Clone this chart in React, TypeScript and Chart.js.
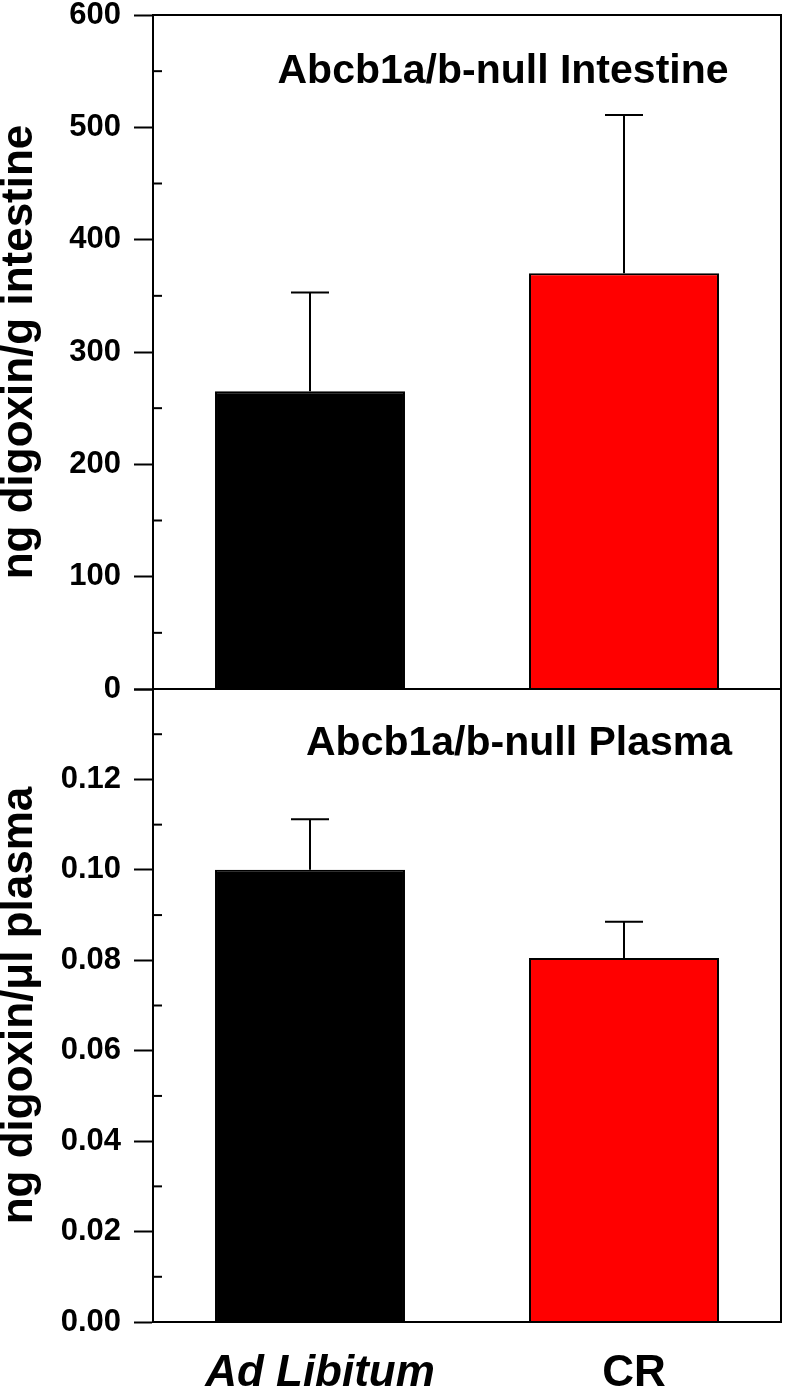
import React, { useEffect, useRef } from 'react';
import { Chart, registerables } from 'chart.js';

Chart.register(...registerables);

const categories = ['Ad Libitum', 'CR'];
const barColors = ['#000000', '#ff0000'];

const intestineMeans = [265, 370];
const intestineErrors = [88, 141];
const intestineRange = [0, 600];
const intestineStep = 100;
const intestineMinorTicks = [50, 150, 250, 350, 450, 550];

const plasmaMeans = [0.1, 0.0805];
const plasmaErrors = [0.0112, 0.008];
const plasmaRange = [0, 0.14];
const plasmaStep = 0.02;
const plasmaMinorTicks = [0.01, 0.03, 0.05, 0.07, 0.09, 0.11, 0.13];

const intestineTitle = 'Abcb1a/b-null Intestine';
const plasmaTitle = 'Abcb1a/b-null Plasma';
const intestineYTitle = 'ng digoxin/g intestine';
const plasmaYTitle = 'ng digoxin/\u03bcl plasma';

const FONT = "'Liberation Sans', Arial, Helvetica, sans-serif";

type PanelCfg = {
  means: number[];
  errors: number[];
  minor: number[];
  title: string;
  titleX: number; // offset from chart left
  titleBaseline: number; // offset from chart top
  yTitle: string;
};

function makePanelPlugin(cfg: PanelCfg) {
  return {
    id: 'panelDecor',
    afterDatasetsDraw(chart: any) {
      const { ctx, chartArea: a } = chart;
      const y = chart.scales.y;
      const meta = chart.getDatasetMeta(0);
      ctx.save();
      ctx.strokeStyle = '#000';
      ctx.lineWidth = 2;
      ctx.lineCap = 'butt';
      // error bars (upper only)
      meta.data.forEach((bar: any, i: number) => {
        const x = bar.x;
        const yTop = y.getPixelForValue(cfg.means[i]);
        const yErr = y.getPixelForValue(cfg.means[i] + cfg.errors[i]);
        ctx.beginPath();
        ctx.moveTo(x, yTop);
        ctx.lineTo(x, yErr);
        ctx.moveTo(x - 19, yErr);
        ctx.lineTo(x + 19, yErr);
        ctx.stroke();
      });
      // frame
      ctx.strokeRect(a.left, a.top, a.right - a.left, a.bottom - a.top);
      // minor ticks (inward)
      cfg.minor.forEach((v) => {
        const py = y.getPixelForValue(v);
        ctx.beginPath();
        ctx.moveTo(a.left, py);
        ctx.lineTo(a.left + 9, py);
        ctx.stroke();
      });
      // panel title
      ctx.fillStyle = '#000';
      ctx.font = `bold 41px ${FONT}`;
      ctx.textAlign = 'center';
      ctx.textBaseline = 'alphabetic';
      ctx.fillText(cfg.title, a.left + cfg.titleX, a.top + cfg.titleBaseline);
      // y-axis title
      ctx.font = `bold 44px ${FONT}`;
      ctx.translate(32, (a.top + a.bottom) / 2);
      ctx.rotate(-Math.PI / 2);
      ctx.textAlign = 'center';
      ctx.textBaseline = 'alphabetic';
      ctx.fillText(cfg.yTitle, 0, 0);
      ctx.restore();
    },
  };
}

function yScale(range: number[], step: number, fmt: (v: number) => string) {
  return {
    min: range[0],
    max: range[1],
    ticks: {
      stepSize: step,
      color: '#000',
      padding: 13,
      font: { family: FONT, size: 31, weight: 'bold' },
      callback: (v: any) => fmt(Number(v)),
    },
    grid: {
      drawOnChartArea: false,
      drawTicks: true,
      tickLength: 19,
      tickWidth: 2,
      tickColor: '#000',
    },
    border: { display: true, color: '#000', width: 2 },
    afterFit: (s: any) => {
      s.width = 153;
      s.paddingTop = 0;
      s.paddingBottom = 0;
    },
  };
}

export default function App() {
  const topRef = useRef<HTMLCanvasElement>(null);
  const botRef = useRef<HTMLCanvasElement>(null);

  useEffect(() => {
    document.body.style.margin = '0';
    const topChart = new Chart(topRef.current as HTMLCanvasElement, {
      type: 'bar',
      data: {
        labels: categories,
        datasets: [
          {
            data: intestineMeans,
            backgroundColor: barColors,
            borderColor: '#000',
            borderWidth: 2,
            barPercentage: 0.605,
            categoryPercentage: 1,
          },
        ],
      },
      options: {
        responsive: false,
        devicePixelRatio: 1,
        animation: false,
        layout: { padding: { top: 15, right: 6, bottom: 31, left: 0 } },
        plugins: { legend: { display: false }, tooltip: { enabled: false } },
        scales: {
          x: { display: false },
          y: yScale(intestineRange, intestineStep, (v) => String(Math.round(v))) as any,
        },
      },
      plugins: [
        makePanelPlugin({
          means: intestineMeans,
          errors: intestineErrors,
          minor: intestineMinorTicks,
          title: intestineTitle,
          titleX: 350,
          titleBaseline: 68,
          yTitle: intestineYTitle,
        }),
      ],
    });

    const botChart = new Chart(botRef.current as HTMLCanvasElement, {
      type: 'bar',
      data: {
        labels: categories,
        datasets: [
          {
            data: plasmaMeans,
            backgroundColor: barColors,
            borderColor: '#000',
            borderWidth: 2,
            barPercentage: 0.605,
            categoryPercentage: 1,
          },
        ],
      },
      options: {
        responsive: false,
        devicePixelRatio: 1,
        animation: false,
        layout: { padding: { top: 9, right: 6, bottom: 0, left: 0 } },
        plugins: { legend: { display: false }, tooltip: { enabled: false } },
        scales: {
          x: {
            ticks: {
              color: '#000',
              padding: 25,
              labelOffset: 10,
              font: (c: any) => ({
                family: FONT,
                size: 44,
                weight: 'bold',
                style: c.index === 0 ? 'italic' : 'normal',
              }),
            },
            grid: { display: false, drawTicks: false },
            border: { display: false },
            afterFit: (s: any) => {
              s.height = 71;
              s.paddingLeft = 0;
              s.paddingRight = 0;
            },
          } as any,
          y: yScale(plasmaRange, plasmaStep, (v) => (v > 0.135 ? '' : v.toFixed(2))) as any,
        },
      },
      plugins: [
        makePanelPlugin({
          means: plasmaMeans,
          errors: plasmaErrors,
          minor: plasmaMinorTicks,
          title: plasmaTitle,
          titleX: 366,
          titleBaseline: 66,
          yTitle: plasmaYTitle,
        }),
      ],
    });

    return () => {
      topChart.destroy();
      botChart.destroy();
    };
  }, []);

  return (
    <div style={{ position: 'relative', width: 787, height: 1393, background: '#fff' }}>
      <canvas
        ref={topRef}
        width={787}
        height={720}
        style={{ position: 'absolute', left: 0, top: 0, width: 787, height: 720 }}
      />
      <canvas
        ref={botRef}
        width={787}
        height={713}
        style={{ position: 'absolute', left: 0, top: 680, width: 787, height: 713 }}
      />
    </div>
  );
}
